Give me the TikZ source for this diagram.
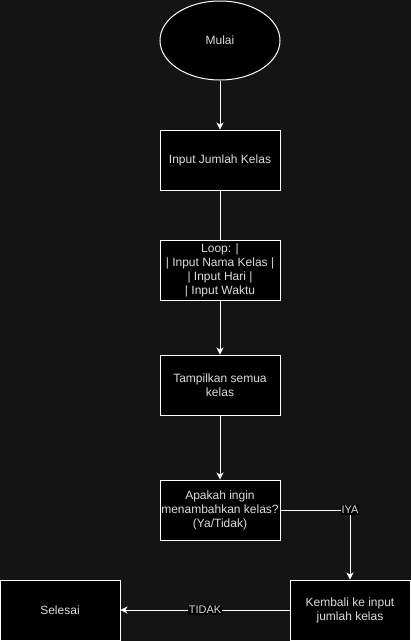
\documentclass[tikz,border=0pt]{standalone}
\usepackage{fontspec}
\setmainfont{Liberation Sans}
\usetikzlibrary{shapes.geometric,arrows.meta}
\definecolor{bgc}{HTML}{141414}
\definecolor{txt}{HTML}{DCDCDC}
\tikzset{
  procbox/.style={draw=white,fill=black,line width=1pt,minimum width=120pt,minimum height=60pt,inner sep=0pt,text=txt,align=center,font=\fontsize{12}{14}\selectfont},
  termoval/.style={ellipse,draw=white,fill=black,line width=1pt,minimum width=120pt,minimum height=79pt,inner sep=0pt,text=txt,font=\fontsize{12}{14}\selectfont},
  conn/.style={draw=white,line width=1pt,-{Stealth[length=7pt,width=7pt,inset=2pt]}},
  plainconn/.style={draw=white,line width=1pt},
  edgelabel/.style={fill=black,text=txt,inner sep=1pt,font=\fontsize{11}{13}\selectfont}
}
\begin{document}
\begin{tikzpicture}[x=1pt,y=-1pt]
\useasboundingbox (0,0) rectangle (411,641);
\fill[bgc] (0,0) rectangle (411,641);
\node[termoval] (mulai) at (220,40.5) {Mulai};
\node[procbox] (jumlah) at (220,160) {Input Jumlah Kelas};
\node[procbox] (loop) at (220,270) {Loop: |\\| Input Nama Kelas |\\| Input Hari |\\| Input Waktu};
\node[procbox] (tampil) at (220,385) {Tampilkan semua\\kelas};
\node[procbox] (tanya) at (220,510) {Apakah ingin\\menambahkan kelas?\\(Ya/Tidak)};
\node[procbox] (kembali) at (350,610) {Kembali ke input\\jumlah kelas};
\node[procbox] (selesai) at (60,610) {Selesai};
\coordinate (belok) at (350,510);
\draw[conn] (mulai) -- (jumlah);
\draw[plainconn] (jumlah) -- (loop);
\draw[conn] (loop) -- (tampil);
\draw[conn] (tampil) -- (tanya);
\draw[conn] (tanya.east) -- (belok) -- (kembali.north);
\node[edgelabel] (iya) at (belok) {IYA};
\draw[conn] (kembali.west) -- node[edgelabel] (tidak) {TIDAK} (selesai.east);
\end{tikzpicture}
\end{document}
